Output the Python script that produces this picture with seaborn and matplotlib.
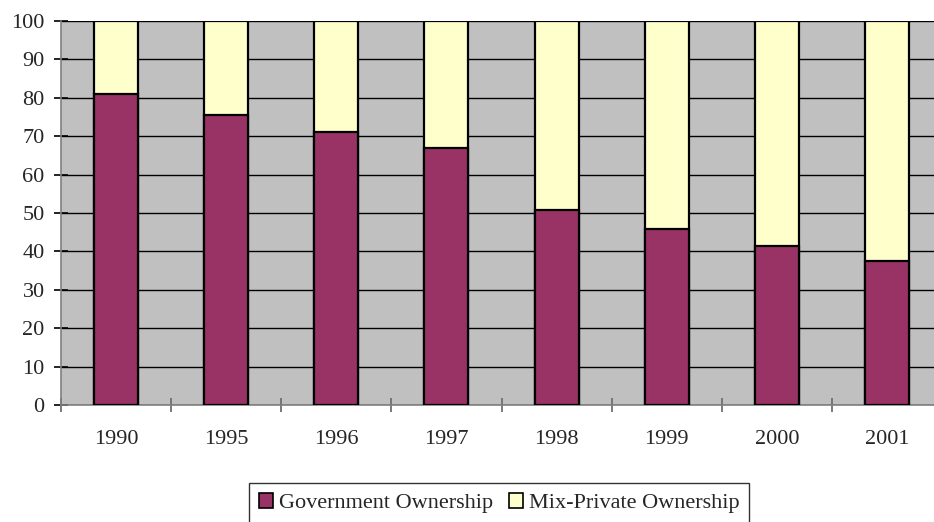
import matplotlib
matplotlib.use("Agg")
import matplotlib.pyplot as plt
from matplotlib.patches import Patch
from matplotlib.ticker import FixedLocator
import numpy as np
import pandas as pd
import seaborn as sns

years = ["1990", "1995", "1996", "1997", "1998", "1999", "2000", "2001"]
government = [81.0, 75.4, 71.2, 67.0, 50.8, 45.8, 41.5, 37.4]
mix_private = [19.0, 24.6, 28.8, 33.0, 49.2, 54.2, 58.5, 62.6]

gov_color = "#993366"
mix_color = "#FFFFCC"
bg_color = "#C0C0C0"

sns.set_style("white")
plt.rcParams["font.family"] = ["Liberation Serif", "DejaVu Serif"]

df = pd.DataFrame({"year": years, "gov": government, "mix": mix_private})
df["total"] = df["gov"] + df["mix"]

fig = plt.figure(figsize=(9.34, 5.22), dpi=100)
ax = fig.add_axes([61 / 934, 117 / 522, 881 / 934, 384 / 522])
ax.set_facecolor(bg_color)

# stacked bars: full-height mix layer first, government share drawn over it
sns.barplot(data=df, x="year", y="total", color=mix_color, width=0.4,
            edgecolor="black", linewidth=1.6, saturation=1, ax=ax, zorder=3)
sns.barplot(data=df, x="year", y="gov", color=gov_color, width=0.4,
            edgecolor="black", linewidth=1.6, saturation=1, ax=ax, zorder=4)

ax.set_xlim(-0.5, len(years) - 0.5)
ax.set_ylim(0, 100)
ax.set_yticks(np.arange(0, 101, 10))
ax.yaxis.grid(True, color="black", linewidth=1.0, zorder=1)
ax.set_axisbelow(True)
ax.set_xlabel("")
ax.set_ylabel("")

ax.tick_params(axis="x", which="major", bottom=True, length=0, pad=18,
               labelsize=16)
ax.xaxis.set_minor_locator(FixedLocator(np.arange(-0.5, len(years), 1.0)))
ax.tick_params(axis="x", which="minor", bottom=True, direction="inout",
               length=9.5, width=1.3, color="#707070")
ax.tick_params(axis="y", which="major", left=True, direction="inout",
               length=9.5, width=1.2, color="black", pad=7, labelsize=16)

for side in ["top", "right"]:
    ax.spines[side].set_visible(False)
for side in ["left", "bottom"]:
    ax.spines[side].set_color("#808080")
    ax.spines[side].set_linewidth(1.2)

handles = [Patch(facecolor=gov_color, edgecolor="black", linewidth=1.2),
           Patch(facecolor=mix_color, edgecolor="black", linewidth=1.2)]
leg = fig.legend(handles, ["Government Ownership", "Mix-Private Ownership"],
                 loc="upper left", bbox_to_anchor=(249 / 934, 39 / 522),
                 ncol=2, fontsize=16, frameon=True, fancybox=False,
                 handlelength=0.65, handleheight=0.65, handletextpad=0.25,
                 columnspacing=0.7, borderpad=0.45, borderaxespad=0)
leg.get_frame().set_edgecolor("black")
leg.get_frame().set_linewidth(1.0)

fig.savefig("out.png", dpi=100)
